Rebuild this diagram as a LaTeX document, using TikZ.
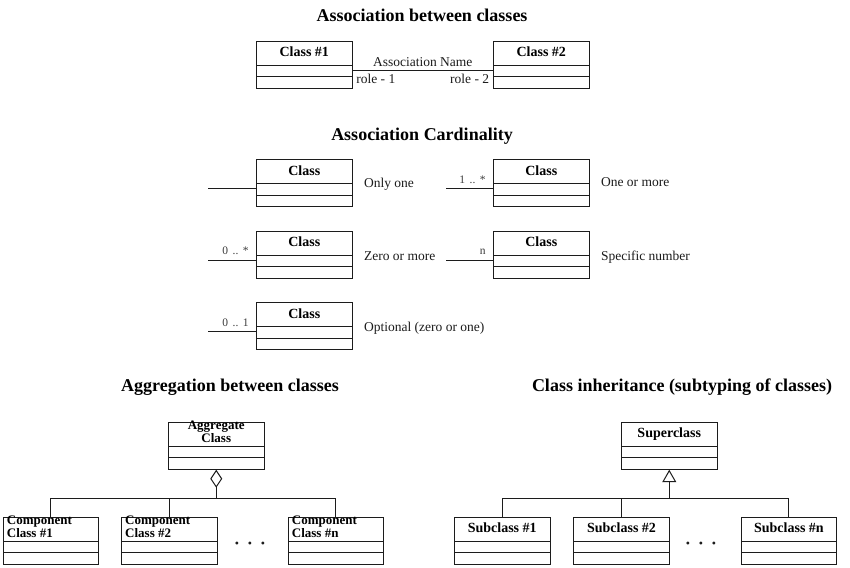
\documentclass[tikz,border=0pt]{standalone}
\usepackage{fontspec}
\setmainfont{Liberation Serif}
\usepackage{tikz}
\usetikzlibrary{arrows.meta,positioning}
\definecolor{ink}{HTML}{1C1C1C}
\definecolor{muted}{HTML}{3A3A3A}
\tikzset{
  link/.style={draw=ink,line width=1pt},
  aggr/.style={link,-{Diamond[open,length=18pt,width=12pt]}},
  inherit/.style={link,-{Triangle[open,length=12.5pt,width=14pt]}},
  classbox/.style={draw=ink,line width=1pt,anchor=north west,inner sep=0pt,
    minimum width=95.5pt,minimum height=47pt,
    path picture={
      \draw[link] ([yshift=-24pt]path picture bounding box.north west) -- ([yshift=-24pt]path picture bounding box.north east);
      \draw[link] ([yshift=-35.5pt]path picture bounding box.north west) -- ([yshift=-35.5pt]path picture bounding box.north east);}},
  heading/.style={font=\fontsize{18}{20}\selectfont\bfseries,inner sep=0pt,anchor=base},
  headtext/.style={font=\fontsize{14}{14}\selectfont\bfseries,inner sep=0pt,anchor=base,yshift=-16pt},
  headtwo/.style={font=\fontsize{13}{13}\selectfont\bfseries,inner sep=0pt,anchor=base,yshift=-21pt},
  desc/.style={font=\fontsize{13.5}{15}\selectfont,text=ink},
  mult/.style={font=\fontsize{11.5}{13}\selectfont,text=muted,anchor=south east,xshift=-3.5pt,yshift=1.7pt},
  dots/.style={font=\fontsize{12}{12}\selectfont,text=ink,inner sep=0pt}
}

\begin{document}
\begin{tikzpicture}[x=1pt,y=-1pt]
  \path[use as bounding box,fill=white] (0,0) rectangle (850,567);

  % association
  \node[heading] (t1) at (422,21.7) {Association between classes};
  \node[classbox,label={[headtext]north:Class \#1}] (c1) at (256,40.7) {};
  \node[classbox,label={[headtext]north:Class \#2}] (c2) at (493,40.7) {};
  \draw[link] ([yshift=-5.5pt]c1.east) -- node[desc,above]{Association Name} node[desc,below right,at start]{role - 1} node[desc,below left,at end]{role - 2} ([yshift=-5.5pt]c2.west);

  % cardinality
  \node[heading] (t2) at (422,140) {Association Cardinality};
  \node[classbox,label={[headtext]north:Class}] (k1) at (256,159.3) {};
  \node[classbox,label={[headtext]north:Class}] (k2) at (493,159.3) {};
  \node[classbox,label={[headtext]north:Class}] (k3) at (256,230.7) {};
  \node[classbox,label={[headtext]north:Class}] (k4) at (493,230.7) {};
  \node[classbox,label={[headtext]north:Class}] (k5) at (256,302.3) {};
  \draw[link] ([yshift=-5.5pt]k1.west) -- ++(-48pt,0) coordinate (k1end);
  \draw[link] ([yshift=-5.5pt]k2.west) -- node[mult,at start]{1\hspace{4.5pt}..\hspace{4.5pt}*} ++(-47pt,0) coordinate (k2end);
  \draw[link] ([yshift=-5.5pt]k3.west) -- node[mult,at start]{0\hspace{4.5pt}..\hspace{4.5pt}*} ++(-48pt,0) coordinate (k3end);
  \draw[link] ([yshift=-5.5pt]k4.west) -- node[mult,at start]{n} ++(-47pt,0) coordinate (k4end);
  \draw[link] ([yshift=-5.5pt]k5.west) -- node[mult,at start]{0\hspace{4.5pt}..\hspace{4.5pt}1} ++(-48pt,0) coordinate (k5end);
  \node[desc,anchor=base west] (d1) at ([xshift=8pt,yshift=-4pt]k1.east) {Only one};
  \node[desc,anchor=base west] (d2) at ([xshift=8pt,yshift=-3pt]k2.east) {One or more};
  \node[desc,anchor=base west] (d3) at ([xshift=8pt,yshift=-5.5pt]k3.east) {Zero or more};
  \node[desc,anchor=base west] (d4) at ([xshift=8pt,yshift=-5.5pt]k4.east) {Specific number};
  \node[desc,anchor=base west] (d5) at ([xshift=8pt,yshift=-5.5pt]k5.east) {Optional (zero or one)};

  % aggregation
  \node[heading] (t3) at (230,391.7) {Aggregation between classes};
  \node[classbox,label={[headtwo,align=center]north:{Aggregate\\Class}}] (agg) at (168,421.7) {};
  \node[classbox,label={[headtwo,align=left,anchor=base west,xshift=4pt]north west:{Component\\Class \#1}}] (cmp1) at (2.7,516.7) {};
  \node[classbox,label={[headtwo,align=left,anchor=base west,xshift=4pt]north west:{Component\\Class \#2}}] (cmp2) at (121,516.7) {};
  \node[classbox,label={[headtwo,align=left,anchor=base west,xshift=4pt]north west:{Component\\Class \#n}}] (cmpn) at (287.7,516.7) {};
  \node[dots] (aggdots) at (250,545) {\textbullet\hspace{8.8pt}\textbullet\hspace{8.8pt}\textbullet};
  \draw[link] (cmp1.north) -- ++(0,18.4pt) coordinate (aggbus) -| (cmpn.north);
  \draw[link] (cmp2.north) -- (cmp2.north |- aggbus);
  \draw[aggr] (agg.south |- aggbus) -- (agg.south);

  % inheritance
  \node[heading] (t4) at (682,391.7) {Class inheritance (subtyping of classes)};
  \node[classbox,label={[headtext]north:Superclass}] (sup) at (621,421.7) {};
  \node[classbox,label={[headtext]north:Subclass \#1}] (sub1) at (454,516.7) {};
  \node[classbox,label={[headtext]north:Subclass \#2}] (sub2) at (573.3,516.7) {};
  \node[classbox,label={[headtext]north:Subclass \#n}] (subn) at (740.7,516.7) {};
  \node[dots] (inhdots) at (701,545) {\textbullet\hspace{8.8pt}\textbullet\hspace{8.8pt}\textbullet};
  \draw[link] (sub1.north) -- ++(0,18.4pt) coordinate (inhbus) -| (subn.north);
  \draw[link] (sub2.north) -- (sub2.north |- inhbus);
  \draw[inherit] (sup.south |- inhbus) -- (sup.south);
\end{tikzpicture}
\end{document}
